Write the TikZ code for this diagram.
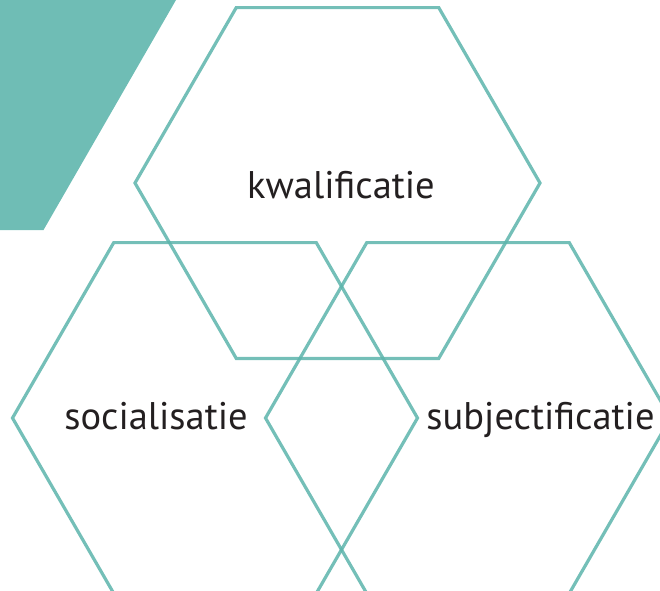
\documentclass[tikz,border=0pt]{standalone}
\usepackage{fontspec}
\setmainfont{PT Sans}
\usetikzlibrary{calc}
\definecolor{teal1}{HTML}{6FBDB5}
\definecolor{hexline}{HTML}{5CB4AB}
\definecolor{txt}{HTML}{231F20}
\begin{document}
\begin{tikzpicture}[x=1pt,y=-1pt,
  hexagon/.style={draw=hexline, line width=3.2pt, draw opacity=0.85, line join=miter},
  label/.style={anchor=base, text=txt, inner sep=0pt, font=\fontsize{38.5}{38.5}\selectfont}]
\useasboundingbox (0,0) rectangle (660,590);
\clip (0,0) rectangle (660,590);
\fill[teal1] (0,0) -- (176,0) -- (43.5,230) -- (0,230) -- cycle;
\coordinate (ck) at (337.5,183);
\coordinate (cs) at (215,418);
\coordinate (cj) at (468,418);
\foreach \c in {ck,cs,cj}{
  \draw[hexagon] ($(\c)+(202.5,0)$) -- ($(\c)+(101.25,175.4)$) -- ($(\c)+(-101.25,175.4)$)
    -- ($(\c)+(-202.5,0)$) -- ($(\c)+(-101.25,-175.4)$) -- ($(\c)+(101.25,-175.4)$) -- cycle;
}
\node[label] (k) at (341,198) {kwalificatie};
\node[label] (s) at (156,429) {socialisatie};
\node[label] (j) at (540.5,429) {subjectificatie};
\end{tikzpicture}
\end{document}
